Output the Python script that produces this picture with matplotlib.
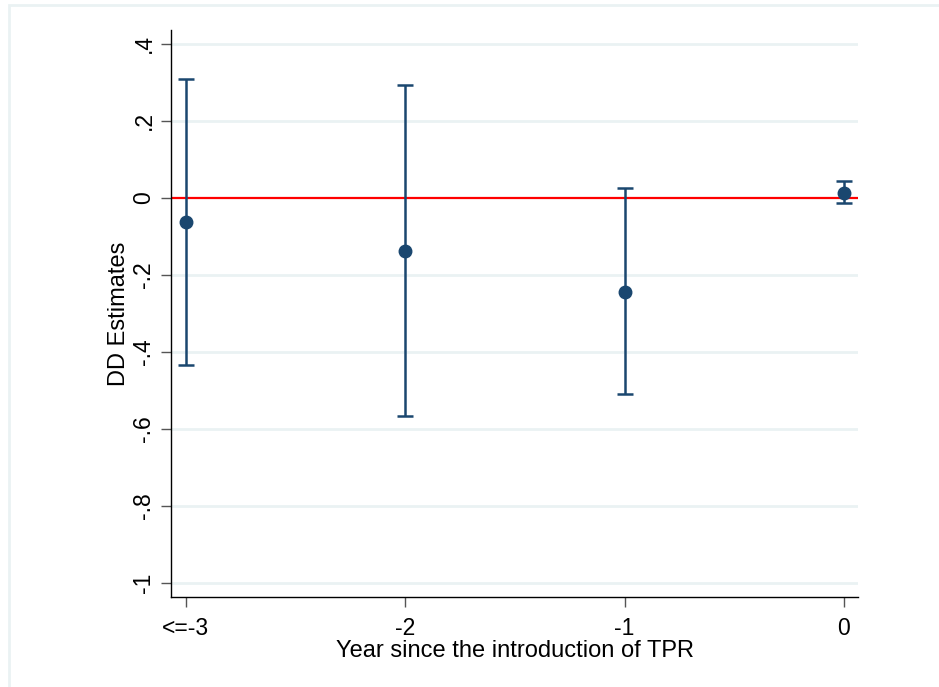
import matplotlib
matplotlib.use('Agg')
import matplotlib.pyplot as plt
from matplotlib.patches import Rectangle

plt.rcParams['font.family'] = ['Liberation Sans', 'DejaVu Sans']

# DATA
years = [-3, -2, -1, 0]
year_labels = ['<=-3', '-2', '-1', '0']
estimates = [-0.063, -0.138, -0.243, 0.014]
ci_low = [-0.434, -0.566, -0.510, -0.014]
ci_high = [0.309, 0.294, 0.027, 0.044]
y_ticks = [-1, -0.8, -0.6, -0.4, -0.2, 0, 0.2, 0.4]
y_tick_labels = ['-1', '-.8', '-.6', '-.4', '-.2', '0', '.2', '.4']

navy = '#1a476f'
grid_col = '#eaf2f3'

W, H = 939, 687
fig = plt.figure(figsize=(W / 100, H / 100), dpi=100)
fig.patch.set_facecolor('white')

# outer graph region frame (light)
fig.patches.append(Rectangle((9 / W, -0.1), 1.2, 1 - 5 / H + 0.1, transform=fig.transFigure,
                             fill=False, edgecolor=grid_col, lw=2, zorder=0))

ax = fig.add_axes([171 / W, (H - 597) / H, (858 - 171) / W, (597 - 30) / H])
ax.set_facecolor('white')

ax.set_xlim(-3.068, 0.064)
ax.set_ylim(-1.036, 0.436)

ax.set_yticks(y_ticks)
ax.set_yticklabels(y_tick_labels, rotation=90, va='center')
ax.set_xticks(years)
ax.set_xticklabels(year_labels)

for yv in y_ticks:
    if yv != 0:
        ax.axhline(yv, color=grid_col, lw=2, zorder=0)

ax.axhline(0, color='red', lw=1.6, zorder=1)

yerr = [[e - l for e, l in zip(estimates, ci_low)], [h - e for e, h in zip(estimates, ci_high)]]
ax.errorbar(years, estimates, yerr=yerr, fmt='o', color=navy, ecolor=navy,
            elinewidth=1.8, capsize=6, capthick=1.8, markersize=9, zorder=3)

for side in ['top', 'right']:
    ax.spines[side].set_visible(False)
ax.spines['left'].set_linewidth(1.0)
ax.spines['bottom'].set_linewidth(1.0)

ax.tick_params(axis='both', labelsize=16.5, length=7.2, width=1.0, color='#555555')
ax.tick_params(axis='y', pad=4)
ax.tick_params(axis='x', pad=7)

ax.set_ylabel('DD Estimates', fontsize=17, labelpad=2)
ax.set_xlabel('Year since the introduction of TPR', fontsize=17, labelpad=0)

fig.savefig('out.png', dpi=100)
